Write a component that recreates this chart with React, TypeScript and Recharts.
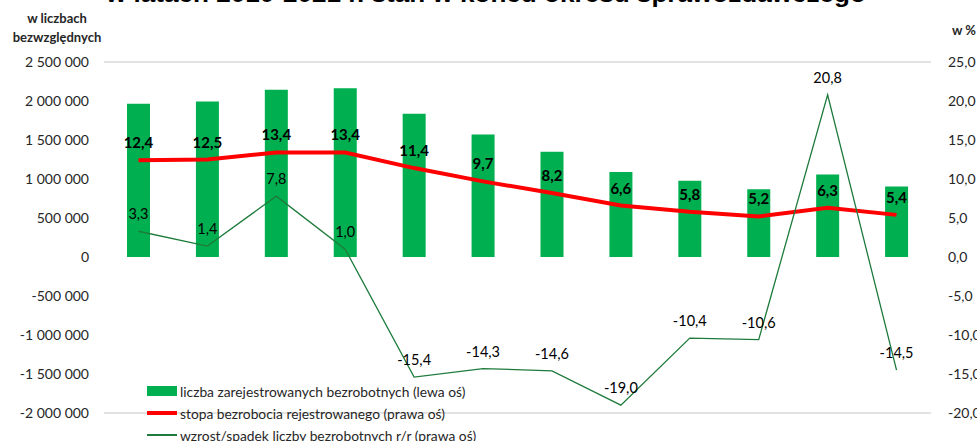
import React from "react";
import {
  ComposedChart,
  Bar,
  Line,
  XAxis,
  YAxis,
  CartesianGrid,
  LabelList,
} from "recharts";

const years = ["2010", "2011", "2012", "2013", "2014", "2015", "2016", "2017", "2018", "2019", "2020", "2021"];
// liczba zarejestrowanych bezrobotnych (lewa oś)
const unemployed = [1965000, 1995000, 2145000, 2165000, 1835000, 1570000, 1350000, 1090000, 978000, 868000, 1058000, 905000];
// stopa bezrobocia rejestrowanego (prawa oś)
const rate = [12.4, 12.5, 13.4, 13.4, 11.4, 9.7, 8.2, 6.6, 5.8, 5.2, 6.3, 5.4];
// wzrost/spadek liczby bezrobotnych r/r (prawa oś)
const change = [3.3, 1.4, 7.8, 1.0, -15.4, -14.3, -14.6, -19.0, -10.4, -10.6, 20.8, -14.5];

const leftTicks = [-2000000, -1500000, -1000000, -500000, 0, 500000, 1000000, 1500000, 2000000, 2500000];
const rightTicks = [-20, -15, -10, -5, 0, 5, 10, 15, 20, 25];

const data = years.map((year, i) => ({
  year,
  unemployed: unemployed[i],
  rate: rate[i],
  change: change[i],
}));

const W = 977;
const H = 441;
const MARGIN = { top: 62, right: 0, bottom: 28, left: 0 };
const FONT = "Lato, 'Noto Sans', sans-serif";
const TEXT = "#262626";

const plotH = H - MARGIN.top - MARGIN.bottom;
const leftMin = leftTicks[0];
const leftMax = leftTicks[leftTicks.length - 1];
const zeroY = MARGIN.top + (plotH * leftMax) / (leftMax - leftMin);

const fmtLeft = (v: number) =>
  (v < 0 ? "-" : "") + Math.abs(v).toString().replace(/\B(?=(\d{3})+(?!\d))/g, " ");
const fmtPct = (v: number) => v.toFixed(1).replace(".", ",");

// year labels sit on the zero line, like in the Excel original
function YearTick(props: any) {
  const { x, payload } = props;
  return (
    <text x={x} y={zeroY + 24} textAnchor="middle" fontSize={14} fontFamily={FONT} fill={TEXT}>
      {payload.value}
    </text>
  );
}

const legendItems = [
  { label: "liczba zarejestrowanych bezrobotnych (lewa oś)", kind: "bar" },
  { label: "stopa bezrobocia rejestrowanego (prawa oś)", kind: "thick" },
  { label: "wzrost/spadek liczby bezrobotnych r/r (prawa oś)", kind: "thin" },
];

export default function App() {
  return (
    <div style={{ position: "absolute", left: 0, top: 0, width: W, height: H, overflow: "hidden", background: "#fff" }}>
      <ComposedChart width={W} height={H} data={data} margin={MARGIN}>
        <CartesianGrid vertical={false} stroke="#d9d9d9" strokeWidth={1.3} />
        <XAxis
          dataKey="year"
          height={0}
          axisLine={false}
          tickLine={false}
          tick={<YearTick />}
          interval={0}
        />
        <YAxis
          yAxisId="left"
          width={104}
          domain={[leftMin, leftMax]}
          ticks={leftTicks}
          tickFormatter={fmtLeft}
          axisLine={false}
          tickLine={false}
          tickSize={0}
          tickMargin={15}
          tick={{ fontSize: 14, fontFamily: FONT, fill: TEXT }}
          interval={0}
        />
        <YAxis
          yAxisId="right"
          orientation="right"
          width={46}
          domain={[rightTicks[0], rightTicks[rightTicks.length - 1]]}
          ticks={rightTicks}
          tickFormatter={fmtPct}
          axisLine={false}
          tickLine={false}
          tickSize={0}
          tickMargin={17}
          tick={{ fontSize: 14, fontFamily: FONT, fill: TEXT, textAnchor: "start" }}
          interval={0}
        />
        <Bar yAxisId="left" dataKey="unemployed" fill="#00b050" barSize={23} isAnimationActive={false} />
        <Line
          yAxisId="right"
          dataKey="rate"
          stroke="#ff0000"
          strokeWidth={4}
          dot={false}
          isAnimationActive={false}
        >
          <LabelList
            dataKey="rate"
            position="top"
            offset={12}
            formatter={(v: any) => fmtPct(Number(v))}
            style={{ fontSize: 15, fontWeight: 700, fontFamily: FONT, fill: "#000" }}
          />
        </Line>
        <Line
          yAxisId="right"
          dataKey="change"
          stroke="#1e7b3c"
          strokeWidth={1.3}
          dot={false}
          isAnimationActive={false}
        >
          <LabelList
            dataKey="change"
            position="top"
            offset={12}
            formatter={(v: any) => fmtPct(Number(v))}
            style={{ fontSize: 14.5, fontFamily: FONT, fill: "#000" }}
          />
        </Line>
      </ComposedChart>

      <svg width={W} height={H} style={{ position: "absolute", left: 0, top: 0, pointerEvents: "none" }}>
        <text
          x={486}
          y={2}
          textAnchor="middle"
          fontSize={24}
          fontWeight={700}
          fontFamily="'Liberation Sans', Arial, sans-serif"
          fill="#000"
          textLength={760}
          lengthAdjust="spacingAndGlyphs"
        >
          w latach 2010-2021 r. stan w końcu okresu sprawozdawczego
        </text>
        <text x={57} y={23} textAnchor="middle" fontSize={13} fontWeight={700} fontFamily={FONT} fill={TEXT}>
          w liczbach
        </text>
        <text x={57} y={42} textAnchor="middle" fontSize={13} fontWeight={700} fontFamily={FONT} fill={TEXT}>
          bezwzględnych
        </text>
        <text x={964} y={35} textAnchor="middle" fontSize={13} fontWeight={700} fontFamily={FONT} fill={TEXT}>
          w %
        </text>
      </svg>

      <div style={{ position: "absolute", left: 147, top: 380, fontFamily: FONT, fontSize: 13.8, color: TEXT }}>
        {legendItems.map((it) => (
          <div key={it.label} style={{ display: "flex", alignItems: "center", height: 22 }}>
            <span style={{ width: 30, height: 20, display: "flex", alignItems: "center", marginRight: 3 }}>
              {it.kind === "bar" && <span style={{ width: 30, height: 10, background: "#00b050" }} />}
              {it.kind === "thick" && <span style={{ width: 30, height: 4, background: "#ff0000" }} />}
              {it.kind === "thin" && <span style={{ width: 30, height: 1.3, background: "#1e7b3c" }} />}
            </span>
            <span style={{ whiteSpace: "nowrap" }}>{it.label}</span>
          </div>
        ))}
      </div>
    </div>
  );
}
